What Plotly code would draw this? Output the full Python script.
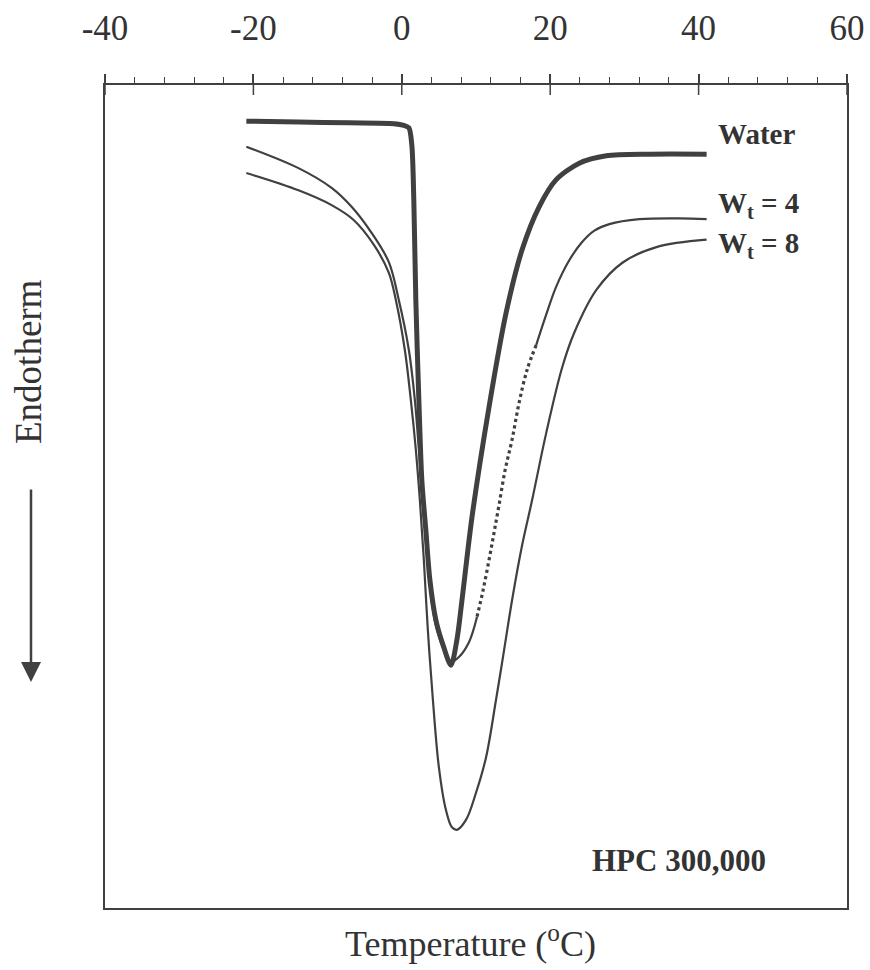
import plotly.graph_objects as go

# Temperature (deg C) and heat-flow (arbitrary units, endotherm down)
water_T = [-20.95, -13.92, -7.16, -1.08, 0.27, 0.95, 1.35, 1.62, 1.89, 2.30, 2.70, 3.24, 3.78, 4.59, 5.54,
           6.62, 7.43, 8.11, 9.46, 11.76, 14.05, 16.22, 18.51, 20.81, 23.92, 27.57, 33.38, 41.08]
water_y = [95.6, 95.5, 95.4, 95.3, 95.1, 94.8, 92.7, 86.0, 73.9, 61.7, 52.0, 45.9, 39.9, 35.0, 32.0,
           29.5, 32.6, 37.4, 47.5, 60.9, 72.3, 80.0, 85.2, 88.5, 90.5, 91.4, 91.6, 91.6]

w4_T = [-20.95, -13.92, -9.46, -6.76, -4.05, -1.76, -0.41, 0.95, 1.76, 2.30, 2.84, 3.38, 3.92, 4.73, 5.81,
        6.62, 7.70, 9.05, 10.14, 10.95, 11.76, 12.43, 13.11, 13.92, 14.86, 15.81, 16.89, 18.11,
        19.46, 20.81, 22.57, 24.19, 25.95, 27.97, 32.03, 37.43, 41.08]
w4_y = [92.5, 89.9, 87.5, 85.2, 82.0, 78.5, 73.9, 67.8, 61.7, 55.7, 49.6, 43.5, 38.0, 33.8, 31.1,
        29.9, 30.5, 32.3, 35.4, 38.6, 42.3, 45.6, 49.0, 53.2, 56.9, 61.4, 65.4, 68.4,
        72.1, 75.5, 78.7, 80.8, 82.3, 83.1, 83.7, 83.8, 83.7]
w4_dot_start = 18   # index where the dotted stretch begins
w4_dot_end = 27     # index where it ends

w8_T = [-20.95, -13.92, -9.46, -6.49, -3.78, -1.76, -0.81, 0.41, 1.22, 1.89, 2.43, 2.97, 3.51, 4.19, 5.00,
        5.95, 6.76, 7.43, 8.65, 10.0, 11.35, 12.70, 13.78, 14.86, 16.22, 17.57, 19.46, 21.62,
        23.24, 26.22, 29.73, 34.32, 41.08]
w8_y = [89.3, 87.2, 85.4, 83.6, 80.6, 77.2, 73.9, 67.8, 61.7, 55.7, 49.6, 42.3, 33.8, 25.3, 17.1,
        11.9, 9.8, 9.5, 10.7, 14.0, 18.3, 25.3, 31.3, 37.4, 44.1, 49.6, 57.7, 65.7,
        69.9, 75.1, 78.4, 80.3, 81.2]

x_ticks = [-40, -20, 0, 20, 40, 60]

LC = "#404040"
TC = "#333333"
SERIF = "Liberation Serif"

fig = go.Figure()
thin = dict(color=LC, width=2.2, shape="spline", smoothing=1.0)
fig.add_trace(go.Scatter(x=w8_T, y=w8_y, mode="lines", line=thin))
fig.add_trace(go.Scatter(x=w4_T[:w4_dot_start + 1], y=w4_y[:w4_dot_start + 1], mode="lines", line=thin))
fig.add_trace(go.Scatter(x=w4_T[w4_dot_start:w4_dot_end + 1], y=w4_y[w4_dot_start:w4_dot_end + 1],
                         mode="lines", line=dict(color=LC, width=3.2, dash="dot", shape="spline", smoothing=1.0)))
fig.add_trace(go.Scatter(x=w4_T[w4_dot_end:], y=w4_y[w4_dot_end:], mode="lines", line=thin))
fig.add_trace(go.Scatter(x=water_T, y=water_y, mode="lines",
                         line=dict(color=LC, width=5, shape="spline", smoothing=0.8)))

fig.update_layout(
    width=870, height=970,
    margin=dict(l=105, r=23, t=85, b=62),
    paper_bgcolor="white", plot_bgcolor="white",
    showlegend=False,
    xaxis=dict(range=[-40, 60], side="top", tickvals=x_ticks, ticktext=[str(v) for v in x_ticks],
               ticks="outside", ticklen=9, tickwidth=1.5, tickcolor=LC,
               minor=dict(dtick=4, tick0=-40, ticks="outside", ticklen=6, tickwidth=1.2, tickcolor=LC),
               showline=True, linecolor=LC, linewidth=1.8, mirror=True,
               showgrid=False, zeroline=False, automargin=False,
               tickfont=dict(family=SERIF, size=35, color=TC), ticklabelstandoff=20),
    yaxis=dict(range=[0, 100], showline=True, linecolor=LC, linewidth=1.8, mirror=True,
               ticks="", showticklabels=False, showgrid=False, zeroline=False, automargin=False),
)

# major ticks also cross the top axis line (inner part)
for t in x_ticks:
    fig.add_shape(type="line", xref="x", yref="paper", x0=t, x1=t, y0=1, y1=1 - 10 / 823,
                  line=dict(color=LC, width=1.5))

lab_font = dict(family=SERIF, size=29, color=TC)
fig.add_annotation(x=42.4, y=94.0, text="<b>Water</b>", showarrow=False, xanchor="left", yanchor="middle",
                   font=lab_font)
fig.add_annotation(x=42.4, y=85.4, text="<b>W<sub>t</sub> = 4</b>", showarrow=False, xanchor="left",
                   yanchor="middle", font=lab_font)
fig.add_annotation(x=42.4, y=80.5, text="<b>W<sub>t</sub> = 8</b>", showarrow=False, xanchor="left",
                   yanchor="middle", font=lab_font)
fig.add_annotation(x=49.3, y=5.8, text="<b>HPC 300,000</b>", showarrow=False, xanchor="right",
                   yanchor="middle", font=dict(family=SERIF, size=31, color=TC))

fig.add_annotation(xref="paper", yref="paper", x=(470 - 105) / 742, y=(908 - 941) / 823,
                   text="Temperature (<sup>o</sup>C)", showarrow=False, xanchor="center", yanchor="middle",
                   font=dict(family=SERIF, size=36, color=TC))
fig.add_annotation(xref="paper", yref="paper", x=(28 - 105) / 742, y=(908 - 362) / 823,
                   text="Endotherm", textangle=-90, showarrow=False, xanchor="center", yanchor="middle",
                   font=dict(family=SERIF, size=37, color=TC))
fig.add_annotation(xref="paper", yref="paper", x=(31 - 105) / 742, y=(908 - 682) / 823,
                   ax=0, ay=-194, text="", showarrow=True, arrowhead=2, arrowsize=1.6, arrowwidth=2.5,
                   arrowcolor=LC)

fig.write_html("out.html")
